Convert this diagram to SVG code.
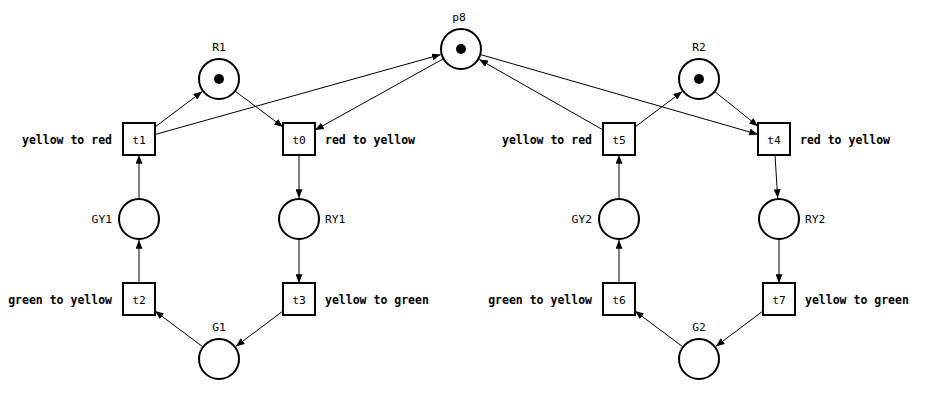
<svg xmlns="http://www.w3.org/2000/svg" width="938" height="408" viewBox="0 0 938 408">
<defs>
<style>
.pl{fill:#fff;stroke:#000;stroke-width:2}
.tr{fill:#fff;stroke:#000;stroke-width:2}
.tok{fill:#000}
.e{stroke:#000;stroke-width:1;fill:none;marker-end:url(#ah)}
.n{font-family:"DejaVu Sans Mono","Liberation Mono",monospace;font-size:11.3px;fill:#000}
.b{font-family:"DejaVu Sans Mono","Liberation Mono",monospace;font-size:11.5px;font-weight:bold;fill:#000}
.m{text-anchor:middle}
.r{text-anchor:end}
</style>
<marker id="ah" viewBox="0 0 10 8" refX="10" refY="4" markerWidth="9" markerHeight="7" markerUnits="userSpaceOnUse" orient="auto">
<path d="M0,0 L10,4 L0,8 z" fill="#000"/>
</marker>
</defs>
<rect width="938" height="408" fill="#fff"/>
<g id="connectors">
<line class="e" x1="155" y1="127" x2="202.2" y2="91.6"/>
<line class="e" x1="155" y1="134.5" x2="440.8" y2="54.6"/>
<line class="e" x1="235" y1="91" x2="283" y2="127"/>
<line class="e" x1="443.5" y1="58.7" x2="315" y2="130.1"/>
<line class="e" x1="299" y1="155" x2="299" y2="198"/>
<line class="e" x1="299" y1="239" x2="299" y2="283"/>
<line class="e" x1="283" y1="311" x2="235.8" y2="346.4"/>
<line class="e" x1="203" y1="347" x2="155" y2="311"/>
<line class="e" x1="139" y1="283" x2="139" y2="240"/>
<line class="e" x1="139" y1="199" x2="139" y2="155"/>
<line class="e" x1="635" y1="127" x2="682.2" y2="91.6"/>
<line class="e" x1="603" y1="129.9" x2="479.2" y2="59.4"/>
<line class="e" x1="480.2" y1="54.5" x2="758" y2="134.4"/>
<line class="e" x1="714.6" y1="91.5" x2="758" y2="126.2"/>
<line class="e" x1="775" y1="155" x2="777.7" y2="198"/>
<line class="e" x1="779" y1="239" x2="779" y2="283"/>
<line class="e" x1="763" y1="311" x2="715.8" y2="346.4"/>
<line class="e" x1="683" y1="347" x2="635" y2="311"/>
<line class="e" x1="619" y1="283" x2="619" y2="240"/>
<line class="e" x1="619" y1="199" x2="619" y2="155"/>
</g>
<g id="p8"><circle class="pl" cx="461" cy="49" r="20"/><circle class="tok" cx="461" cy="49" r="5"/><text class="n m" x="459" y="21">p8</text></g>
<g id="R1"><circle class="pl" cx="219" cy="79" r="20"/><circle class="tok" cx="219" cy="79" r="5"/><text class="n m" x="219" y="51">R1</text></g>
<g id="R2"><circle class="pl" cx="699" cy="79" r="20"/><circle class="tok" cx="699" cy="79" r="5"/><text class="n m" x="699" y="51">R2</text></g>
<g id="GY1"><circle class="pl" cx="139" cy="219" r="20"/><text class="n r" x="112" y="223">GY1</text></g>
<g id="RY1"><circle class="pl" cx="299" cy="219" r="20"/><text class="n" x="325" y="223">RY1</text></g>
<g id="G1"><circle class="pl" cx="219" cy="359" r="20"/><text class="n m" x="219" y="331">G1</text></g>
<g id="GY2"><circle class="pl" cx="619" cy="219" r="20"/><text class="n r" x="592" y="223">GY2</text></g>
<g id="RY2"><circle class="pl" cx="779" cy="219" r="20"/><text class="n" x="805" y="223">RY2</text></g>
<g id="G2"><circle class="pl" cx="699" cy="359" r="20"/><text class="n m" x="699" y="331">G2</text></g>
<g id="t1"><rect class="tr" x="123" y="123" width="32" height="32"/><text class="n m" x="139" y="144">t1</text><text class="b r" x="112" y="144">yellow to red</text></g>
<g id="t0"><rect class="tr" x="283" y="123" width="32" height="32"/><text class="n m" x="299" y="144">t0</text><text class="b" x="325" y="144">red to yellow</text></g>
<g id="t2"><rect class="tr" x="123" y="283" width="32" height="32"/><text class="n m" x="139" y="304">t2</text><text class="b r" x="112" y="304">green to yellow</text></g>
<g id="t3"><rect class="tr" x="283" y="283" width="32" height="32"/><text class="n m" x="299" y="304">t3</text><text class="b" x="325" y="304">yellow to green</text></g>
<g id="t5"><rect class="tr" x="603" y="123" width="32" height="32"/><text class="n m" x="619" y="144">t5</text><text class="b r" x="592" y="144">yellow to red</text></g>
<g id="t4"><rect class="tr" x="758" y="123" width="32" height="32"/><text class="n m" x="774" y="144">t4</text><text class="b" x="800" y="144">red to yellow</text></g>
<g id="t6"><rect class="tr" x="603" y="283" width="32" height="32"/><text class="n m" x="619" y="304">t6</text><text class="b r" x="592" y="304">green to yellow</text></g>
<g id="t7"><rect class="tr" x="763" y="283" width="32" height="32"/><text class="n m" x="779" y="304">t7</text><text class="b" x="805" y="304">yellow to green</text></g>
</svg>
